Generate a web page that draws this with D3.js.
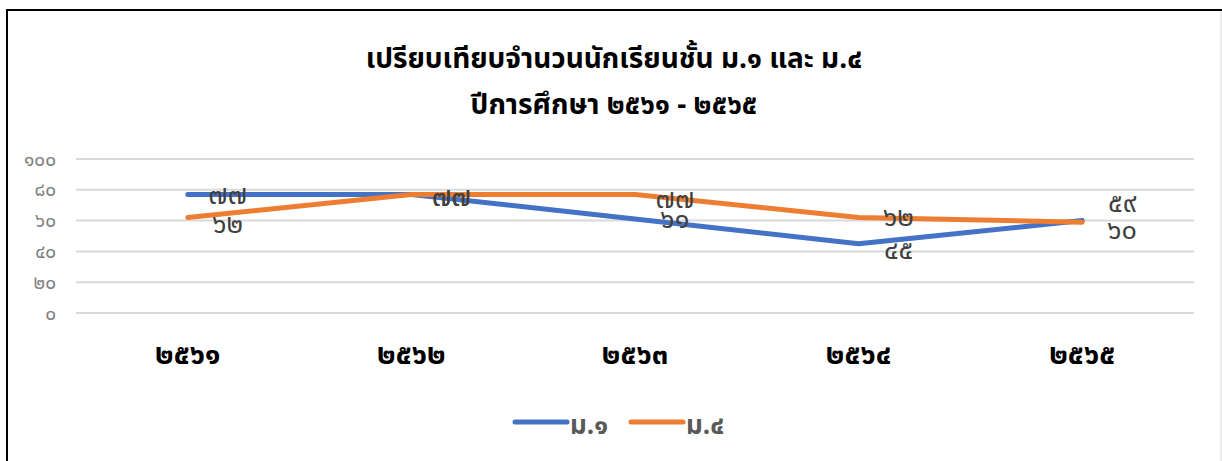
<!DOCTYPE html>
<html>
<head>
<meta charset="utf-8">
<script src="https://cdnjs.cloudflare.com/ajax/libs/d3/7.8.5/d3.min.js"></script>
<style>
  body { margin: 0; background: #fff; }
  svg { display: block; }
</style>
</head>
<body>
<script>
// chart data
const years = ["๒๕๖๑", "๒๕๖๒", "๒๕๖๓", "๒๕๖๔", "๒๕๖๕"];
const m1 = [77, 77, 61, 45, 60];   // ม.๑
const m4 = [62, 77, 77, 62, 59];   // ม.๔
const yTicks = [0, 20, 40, 60, 80, 100];
const seriesNames = ["ม.๑", "ม.๔"];
const colors = ["#4472c4", "#ed7d31"];

const thaiDigits = "๐๑๒๓๔๕๖๗๘๙";
const toThai = n => String(n).replace(/[0-9]/g, c => thaiDigits[+c]);

const canvWidth = 1222, canvHeight = 461;
const font = "'Noto Sans Thai', 'Noto Sans', 'DejaVu Sans', sans-serif";

const svg = d3.select("body").append("svg")
    .attr("width", canvWidth)
    .attr("height", canvHeight);

// frame: black top and left, light right edge
svg.append("line").attr("x1", 7).attr("x2", canvWidth).attr("y1", 10).attr("y2", 10)
    .attr("stroke", "#000").attr("stroke-width", 2);
svg.append("line").attr("x1", 7).attr("x2", 7).attr("y1", 9).attr("y2", canvHeight)
    .attr("stroke", "#000").attr("stroke-width", 2);
svg.append("line").attr("x1", 1221).attr("x2", 1221).attr("y1", 11).attr("y2", canvHeight)
    .attr("stroke", "#d9d9d9").attr("stroke-width", 1);

// title
svg.append("text")
    .attr("x", 614).attr("y", 68)
    .attr("text-anchor", "middle")
    .attr("font-family", font).attr("font-size", "28px").attr("font-weight", "bold")
    .attr("fill", "#000")
    .text("เปรียบเทียบจำนวนนักเรียนชั้น ม.๑ และ ม.๔");
svg.append("text")
    .attr("x", 614).attr("y", 114)
    .attr("text-anchor", "middle")
    .attr("font-family", font).attr("font-size", "28px").attr("font-weight", "bold")
    .attr("fill", "#000")
    .text("ปีการศึกษา ๒๕๖๑ - ๒๕๖๕");

const margin = {top: 159, left: 76, right: 28, bottom: 148};
const width = canvWidth - margin.left - margin.right;
const height = canvHeight - margin.top - margin.bottom;

const g = svg.append("g")
    .attr("transform", "translate(" + margin.left + "," + margin.top + ")");

const x = d3.scaleBand().domain(years).range([0, width]);
const y = d3.scaleLinear().domain([0, 100]).range([height, 0]);

// gridlines
g.selectAll("line.grid")
    .data(yTicks)
    .enter().append("line")
    .attr("class", "grid")
    .attr("x1", 0).attr("x2", width)
    .attr("y1", d => y(d)).attr("y2", d => y(d))
    .attr("stroke", "#d9d9d9").attr("stroke-width", 2);

// y axis labels
const yAxis = g.append("g")
    .call(d3.axisLeft(y).tickValues(yTicks).tickSize(0).tickPadding(20).tickFormat(toThai));
yAxis.select(".domain").remove();
yAxis.selectAll("text")
    .attr("font-family", font).attr("font-size", "19px").attr("fill", "#7f7f7f");

// x axis labels
const xAxis = g.append("g")
    .attr("transform", "translate(0," + height + ")")
    .call(d3.axisBottom(x).tickSize(0).tickPadding(30));
xAxis.select(".domain").remove();
xAxis.selectAll("text")
    .attr("font-family", font).attr("font-size", "29px").attr("font-weight", "bold").attr("fill", "#000");

const cx = d => x(d) + x.bandwidth() / 2;
const line = d3.line()
    .x((d, i) => cx(years[i]))
    .y(d => y(d));

const series = [m1, m4];
series.forEach((s, k) => {
    g.append("path")
        .datum(s)
        .attr("fill", "none")
        .attr("stroke", colors[k])
        .attr("stroke-width", 5)
        .attr("stroke-linecap", "round")
        .attr("stroke-linejoin", "round")
        .attr("d", line);
});

// data labels (to the right of each point)
const labelDy = [
    [10, 12, 9, 15, 18],    // ม.๑
    [15, 12, 14, 8, -10]    // ม.๔
];
series.forEach((s, k) => {
    g.selectAll("text.lbl" + k)
        .data(s)
        .enter().append("text")
        .attr("class", "lbl" + k)
        .attr("x", (d, i) => cx(years[i]) + 40)
        .attr("y", (d, i) => y(d) + labelDy[k][i])
        .attr("text-anchor", "middle")
        .attr("font-family", font).attr("font-size", "27px")
        .attr("fill", "#404040")
        .text(d => toThai(d));
});

// legend
const legend = svg.append("g").attr("transform", "translate(515,422)");
seriesNames.forEach((name, k) => {
    const lg = legend.append("g").attr("transform", "translate(" + (k * 116) + ",0)");
    lg.append("line")
        .attr("x1", 0).attr("x2", 52).attr("y1", 0).attr("y2", 0)
        .attr("stroke", colors[k]).attr("stroke-width", 5).attr("stroke-linecap", "round");
    lg.append("text")
        .attr("x", 55).attr("y", 12)
        .attr("font-family", font).attr("font-size", "26px").attr("font-weight", "bold")
        .attr("fill", "#595959")
        .text(name);
});
</script>
</body>
</html>
